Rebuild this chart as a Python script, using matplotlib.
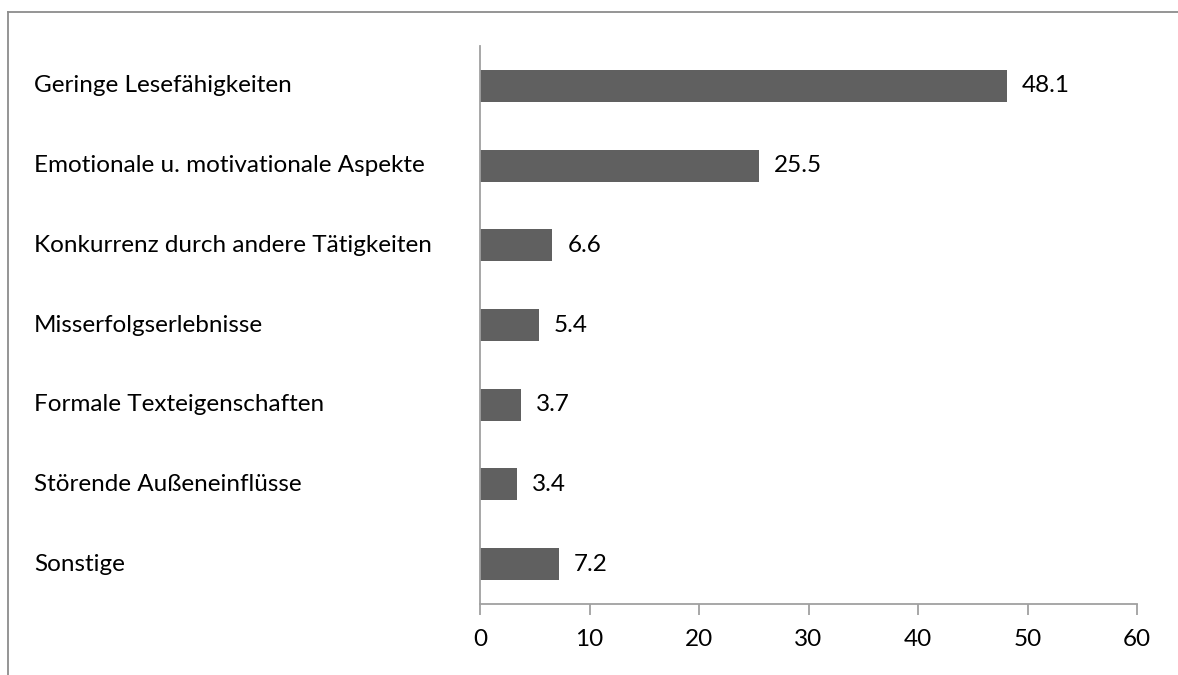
import matplotlib.pyplot as plt
import matplotlib.transforms as mtransforms
from matplotlib.lines import Line2D

categories = [
    "Geringe Lesefähigkeiten",
    "Emotionale u. motivationale Aspekte",
    "Konkurrenz durch andere Tätigkeiten",
    "Misserfolgserlebnisse",
    "Formale Texteigenschaften",
    "Störende Außeneinflüsse",
    "Sonstige",
]
values = [48.1, 25.5, 6.6, 5.4, 3.7, 3.4, 7.2]
xticks = [0, 10, 20, 30, 40, 50, 60]

plt.rcParams['font.family'] = ['Lato', 'DejaVu Sans']
FS = 17.5

W, H = 1178, 675
fig = plt.figure(figsize=(W / 100, H / 100), dpi=100)
ax = fig.add_axes([480 / W, 1 - 604 / H, (1137 - 480) / W, (604 - 46) / H])

ypos = list(range(len(categories)))
ax.barh(ypos, values, height=0.4, color='#606060', zorder=2)
ax.set_ylim(len(categories) - 0.5, -0.5)
ax.set_xlim(0, 60)
ax.set_xticks(xticks)
ax.set_xticklabels([str(t) for t in xticks], fontsize=FS)
ax.set_yticks([])

for s in ['top', 'right']:
    ax.spines[s].set_visible(False)
for s in ['left', 'bottom']:
    ax.spines[s].set_color('#a0a0a0')
    ax.spines[s].set_linewidth(1.3)
ax.tick_params(axis='x', direction='out', length=8, width=1.3, color='#a0a0a0', pad=10)

# category labels, left aligned near the figure edge
trans = mtransforms.blended_transform_factory(fig.transFigure, ax.transData)
for y, c in zip(ypos, categories):
    ax.text(34 / W, y, c, transform=trans, ha='left', va='center', fontsize=FS, color='#000000')

# value labels
for y, v in zip(ypos, values):
    ax.annotate(f"{v:.1f}", (v, y), xytext=(15, 0), textcoords='offset pixels',
                ha='left', va='center', fontsize=FS, color='#000000')

# outer frame (partially visible)
fig.add_artist(Line2D([8 / W, 8 / W], [0, 1 - 12 / H], color='#8c8c8c', lw=1.3, transform=fig.transFigure))
fig.add_artist(Line2D([8 / W, 1], [1 - 12 / H, 1 - 12 / H], color='#8c8c8c', lw=1.3, transform=fig.transFigure))

fig.savefig('out.png', dpi=100)
